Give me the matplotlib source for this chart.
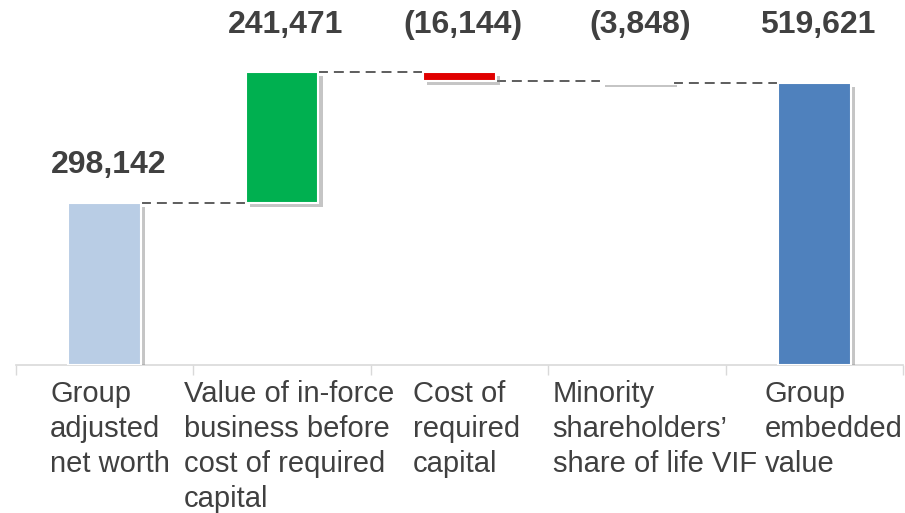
import matplotlib.pyplot as plt
import matplotlib.patheffects as pe

categories = ['Group\nadjusted\nnet worth',
              'Value of in-force\nbusiness before\ncost of required\ncapital',
              'Cost of\nrequired\ncapital',
              'Minority\nshareholders\u2019\nshare of life VIF',
              'Group\nembedded\nvalue']
values = [298142, 241471, -16144, -3848, 519621]
value_labels = ['298,142', '241,471', '(16,144)', '(3,848)', '519,621']
is_total = [True, False, False, False, True]
colors = ['#b9cde5', '#00b050', '#e00000', '#ffffff', '#4f81bd']

plt.rcParams['font.family'] = ['Liberation Sans', 'DejaVu Sans']
text_color = '#404040'

fig = plt.figure(figsize=(9.05, 5.13), dpi=100)
ax = fig.add_axes([16 / 905, 1 - 365 / 513, 887 / 905, 365 / 513])

bar_w = 0.41
shadow = [pe.SimplePatchShadow(offset=(3, -3), shadow_rgbFace='#7f7f7f', alpha=0.45), pe.Normal()]

running = 0
bottoms, heights, levels = [], [], []
for v, tot in zip(values, is_total):
    if tot:
        bottoms.append(0)
        heights.append(v)
        running = v
    else:
        bottoms.append(min(running, running + v))
        heights.append(abs(v))
        running += v
    levels.append(running)

x = list(range(len(values)))
bars = ax.bar(x, heights, bottom=bottoms, width=bar_w, color=colors,
              edgecolor='white', linewidth=1.5, zorder=3)
for b in bars:
    b.set_path_effects(shadow)

# connectors
for i in range(len(values) - 1):
    ax.plot([i + bar_w / 2, i + 1 - bar_w / 2], [levels[i], levels[i]],
            color='#505050', linestyle=(0, (5.5, 3.3)), linewidth=1.3, zorder=2)

# value labels
label_y = [368500, 626500, 626500, 626500, 626500]
for i, (lbl, ly) in enumerate(zip(value_labels, label_y)):
    ax.text(i + 0.02, ly, lbl, ha='center', va='center', fontsize=23,
            fontweight='bold', color=text_color)

# category labels (small nudges to match the original placement)
nudge = [0.03, 0.04, 0.04, 0.10, 0.11]
for i, c in enumerate(categories):
    ax.text(i + nudge[i], -0.04, c, transform=ax.get_xaxis_transform(),
            ha='center', va='top', multialignment='left', fontsize=21,
            color=text_color, linespacing=1.33)

ax.set_xlim(-0.5, 4.5)
ax.set_ylim(0, 672600)
ax.set_yticks([])
ax.set_xticks([-0.5, 0.5, 1.5, 2.5, 3.5, 4.5])
ax.set_xticklabels([])
ax.tick_params(axis='x', length=7, color='#d9d9d9', width=1)
for s in ['top', 'right', 'left']:
    ax.spines[s].set_visible(False)
ax.spines['bottom'].set_color('#d9d9d9')
ax.spines['bottom'].set_linewidth(1.2)

fig.savefig('out.png', dpi=100)
